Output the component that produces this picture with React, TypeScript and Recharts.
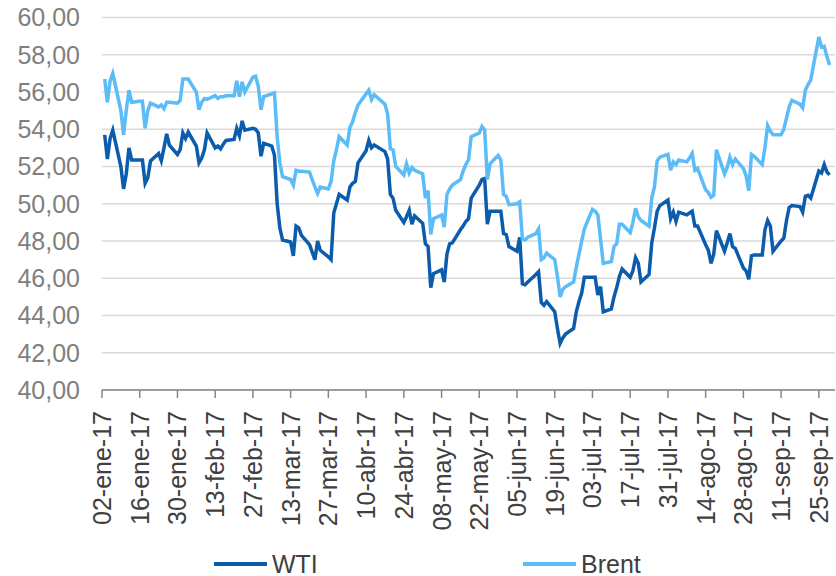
import { LineChart, Line, XAxis, YAxis, CartesianGrid, Legend } from "recharts";

// Cotizaciones diarias 2017 (USD/barril)
const fechas = [
  "01-03", "01-04", "01-05", "01-06", "01-09", "01-10", "01-11", "01-12", "01-13", "01-16", "01-17",
  "01-18", "01-19", "01-20", "01-23", "01-24", "01-25", "01-26", "01-27", "01-30", "01-31",
  "02-01", "02-02", "02-03", "02-06", "02-07", "02-08", "02-09", "02-10", "02-13", "02-14",
  "02-15", "02-16", "02-17", "02-20", "02-21", "02-22", "02-23", "02-24", "02-27", "02-28",
  "03-01", "03-02", "03-03", "03-06", "03-07", "03-08", "03-09", "03-10", "03-13", "03-14", "03-15",
  "03-16", "03-17", "03-20", "03-21", "03-22", "03-23", "03-24", "03-27", "03-28", "03-29", "03-30", "03-31",
  "04-03", "04-04", "04-05", "04-06", "04-07", "04-10", "04-11", "04-12", "04-13", "04-17",
  "04-18", "04-19", "04-20", "04-21", "04-24", "04-25", "04-26", "04-27", "04-28",
  "05-01", "05-02", "05-03", "05-04", "05-05", "05-08", "05-09", "05-10", "05-11", "05-12", "05-15",
  "05-16", "05-17", "05-18", "05-19", "05-22", "05-23", "05-24", "05-25", "05-26", "05-29", "05-30", "05-31",
  "06-01", "06-02", "06-05", "06-06", "06-07", "06-08", "06-09", "06-12", "06-13", "06-14", "06-15",
  "06-16", "06-19", "06-20", "06-21", "06-22", "06-23", "06-26", "06-27", "06-28", "06-29", "06-30",
  "07-03", "07-04", "07-05", "07-06", "07-07", "07-10", "07-11", "07-12", "07-13", "07-14", "07-17",
  "07-18", "07-19", "07-20", "07-21", "07-24", "07-25", "07-26", "07-27", "07-28", "07-31",
  "08-01", "08-02", "08-03", "08-04", "08-07", "08-08", "08-09", "08-10", "08-11", "08-14", "08-15", "08-16",
  "08-17", "08-18", "08-21", "08-22", "08-23", "08-24", "08-25", "08-28", "08-29", "08-30", "08-31",
  "09-01", "09-04", "09-05", "09-06", "09-07", "09-08", "09-11", "09-12", "09-13", "09-14", "09-15",
  "09-18", "09-19", "09-20", "09-21", "09-22", "09-25", "09-26", "09-27", "09-28", "09-29",
];

const wti = [
  53.7, 52.4, 53.5, 53.95, 52.0, 50.8, 51.6, 53.0, 52.35, 52.35, 52.35,
  51.1, 51.4, 52.3, 52.7, 52.3, 53.0, 53.75, 53.15, 52.65, 52.9,
  53.8, 53.5, 53.85, 53.1, 52.2, 52.45, 52.9, 53.8, 53.0, 53.1,
  52.95, 53.2, 53.4, 53.45, 54.05, 53.65, 54.45, 53.95, 54.05, 54.0,
  53.8, 52.55, 53.25, 53.1, 52.6, 50.0, 48.7, 48.05, 47.95, 47.2, 48.8,
  48.7, 48.3, 47.8, 47.4, 47.0, 48.0, 47.5, 47.15, 47.0, 49.5, 50.0, 50.5,
  50.2, 50.9, 51.1, 51.2, 52.2, 52.85, 53.4, 53.0, 53.15, 52.8,
  52.4, 50.5, 50.3, 49.65, 49.0, 49.3, 49.65, 48.9, 49.35,
  48.95, 47.85, 47.7, 45.5, 46.25, 46.45, 45.8, 47.3, 47.85, 47.9, 48.6,
  48.8, 49.05, 49.2, 50.3, 51.0, 51.3, 51.35, 48.9, 49.6, 49.6, 49.6, 48.4,
  48.35, 47.7, 47.45, 48.2, 45.7, 45.65, 45.8, 46.2, 46.35, 44.7, 44.55,
  44.75, 44.2, 43.3, 42.5, 42.8, 43.0, 43.3, 44.2, 44.75, 45.2, 46.05,
  46.05, 46.05, 45.1, 45.55, 44.2, 44.35, 45.0, 45.5, 46.1, 46.5, 46.05,
  46.4, 47.1, 46.8, 45.8, 46.2, 47.9, 48.7, 49.6, 49.9, 50.2,
  49.2, 49.55, 49.05, 49.55, 49.4, 49.5, 49.6, 48.8, 48.8, 47.8, 47.5, 46.8,
  47.3, 48.55, 47.45, 47.9, 48.4, 47.7, 47.6, 46.55, 46.4, 45.95, 47.2,
  47.25, 47.25, 48.6, 49.1, 48.8, 47.45, 48.0, 48.15, 49.1, 49.8, 49.9,
  49.85, 49.55, 50.4, 50.45, 50.3, 51.75, 51.65, 52.1, 51.7, 51.55,
];

const brent = [
  56.7, 55.45, 56.6, 57.0, 55.0, 53.7, 55.0, 56.1, 55.45, 55.5, 55.5,
  54.05, 55.0, 55.4, 55.2, 55.3, 55.1, 55.45, 55.45, 55.4, 55.55,
  56.7, 56.7, 56.7, 56.0, 55.05, 55.45, 55.65, 55.6, 55.8, 55.65,
  55.75, 55.75, 55.8, 55.8, 56.6, 55.75, 56.55, 56.0, 56.8, 56.85,
  56.3, 55.05, 55.75, 55.9, 55.95, 53.6, 52.2, 51.45, 51.3, 51.0, 51.8,
  51.75, 51.75, 51.7, 51.3, 50.9, 50.55, 50.9, 50.8, 51.2, 52.3, 52.9, 53.6,
  53.15, 54.1, 54.4, 54.9, 55.3, 55.9, 56.1, 55.6, 55.85, 55.35,
  54.8, 52.95, 52.9, 52.0, 51.55, 52.15, 51.65, 51.95, 51.8,
  51.6, 50.3, 50.7, 48.35, 49.2, 49.4, 48.75, 50.5, 50.8, 51.0, 51.3,
  51.75, 52.1, 52.35, 53.6, 53.8, 54.15, 53.95, 51.3, 52.15, 52.6, 52.35, 50.5,
  50.4, 49.95, 50.0, 50.1, 48.1, 48.05, 48.2, 48.4, 48.65, 47.0, 47.1,
  47.35, 47.0, 46.1, 45.0, 45.4, 45.55, 45.8, 46.6, 47.3, 48.0, 48.65,
  49.7, 49.6, 49.4, 48.1, 46.8, 46.9, 47.7, 47.85, 48.9, 48.9, 48.45,
  49.0, 49.75, 49.3, 49.1, 48.8, 50.3, 50.9, 52.3, 52.5, 52.65,
  51.8, 52.25, 52.1, 52.35, 52.25, 52.45, 52.7, 51.8, 51.9, 50.75, 50.6, 50.35,
  50.45, 52.9, 51.6, 51.95, 52.5, 52.1, 52.4, 51.9, 51.5, 50.7, 52.65,
  52.55, 52.1, 53.0, 54.2, 53.9, 53.7, 53.7, 54.0, 54.6, 55.2, 55.55,
  55.35, 55.15, 56.1, 56.4, 56.65, 58.95, 58.4, 58.45, 57.9, 57.45,
];

// rótulos del eje X, uno cada dos semanas desde el 2 de enero
const etiquetas = [
  "02-ene-17", "16-ene-17", "30-ene-17", "13-feb-17", "27-feb-17", "13-mar-17", "27-mar-17",
  "10-abr-17", "24-abr-17", "08-may-17", "22-may-17", "05-jun-17", "19-jun-17", "03-jul-17",
  "17-jul-17", "31-jul-17", "14-ago-17", "28-ago-17", "11-sep-17", "25-sep-17",
];

const yTicks = [40, 42, 44, 46, 48, 50, 52, 54, 56, 58, 60];

const ORIGEN = Date.UTC(2017, 0, 2);
const DIA_MS = 86400000;
const diaDe = (f: string) => {
  const [m, d] = f.split("-").map(Number);
  return Math.round((Date.UTC(2017, m - 1, d) - ORIGEN) / DIA_MS);
};

const datos = fechas.map((f, i) => ({ dia: diaDe(f), wti: wti[i], brent: brent[i] }));
const xTicks = etiquetas.map((_, i) => i * 14);

const FUENTE = "'Liberation Sans', Arial, sans-serif";
const AZUL_WTI = "#0b5cad";
const AZUL_BRENT = "#5bbcf8";

const fmtY = (v: number) => v.toFixed(2).replace(".", ",");

function EtiquetaX(props: any) {
  const { x, y, payload } = props;
  const idx = xTicks.indexOf(payload.value);
  return (
    <text
      x={x}
      y={y}
      transform={`rotate(-90 ${x} ${y})`}
      textAnchor="end"
      dy="0.36em"
      fill="#404040"
      fontSize={25}
      fontFamily={FUENTE}
    >
      {etiquetas[idx]}
    </text>
  );
}

function Leyenda() {
  const texto: React.CSSProperties = {
    position: "absolute",
    top: 24,
    transform: "translateY(-50%)",
    lineHeight: 1,
    fontSize: 25,
    fontFamily: FUENTE,
    color: "#404040",
  };
  return (
    <div style={{ position: "relative", width: 836, height: 36 }}>
      <div style={{ position: "absolute", left: 214, top: 22, width: 53, height: 4, background: AZUL_WTI }} />
      <span style={{ ...texto, left: 272 }}>WTI</span>
      <div style={{ position: "absolute", left: 523, top: 22, width: 53, height: 4, background: AZUL_BRENT }} />
      <span style={{ ...texto, left: 581 }}>Brent</span>
    </div>
  );
}

export default function App() {
  return (
    <div style={{ position: "absolute", left: 0, top: 0, width: 836, height: 576, background: "#fff" }}>
      <LineChart width={836} height={576} data={datos} margin={{ top: 17.5, right: 1, left: 0, bottom: 0 }}>
        <CartesianGrid vertical={false} stroke="#d9d9d9" strokeWidth={1.5} />
        <XAxis
          type="number"
          dataKey="dia"
          domain={[0, 272]}
          ticks={xTicks}
          interval={0}
          height={150}
          tick={<EtiquetaX />}
          tickSize={8}
          tickMargin={13}
          axisLine={{ stroke: "#868686", strokeWidth: 1.5 }}
          tickLine={{ stroke: "#868686", strokeWidth: 1.5 }}
        />
        <YAxis
          domain={[40, 60]}
          ticks={yTicks}
          interval={0}
          width={102}
          axisLine={false}
          tickLine={false}
          tickSize={0}
          tickMargin={22}
          tickFormatter={fmtY}
          tick={{ fontSize: 25, fill: "#7f7f7f", fontFamily: FUENTE }}
        />
        <Legend
          verticalAlign="bottom"
          content={<Leyenda />}
          wrapperStyle={{ left: 0, bottom: 0, width: 836, height: 36 }}
        />
        <Line
          type="linear"
          dataKey="wti"
          name="WTI"
          stroke={AZUL_WTI}
          strokeWidth={3.5}
          dot={false}
          isAnimationActive={false}
        />
        <Line
          type="linear"
          dataKey="brent"
          name="Brent"
          stroke={AZUL_BRENT}
          strokeWidth={3.5}
          dot={false}
          isAnimationActive={false}
        />
      </LineChart>
    </div>
  );
}
